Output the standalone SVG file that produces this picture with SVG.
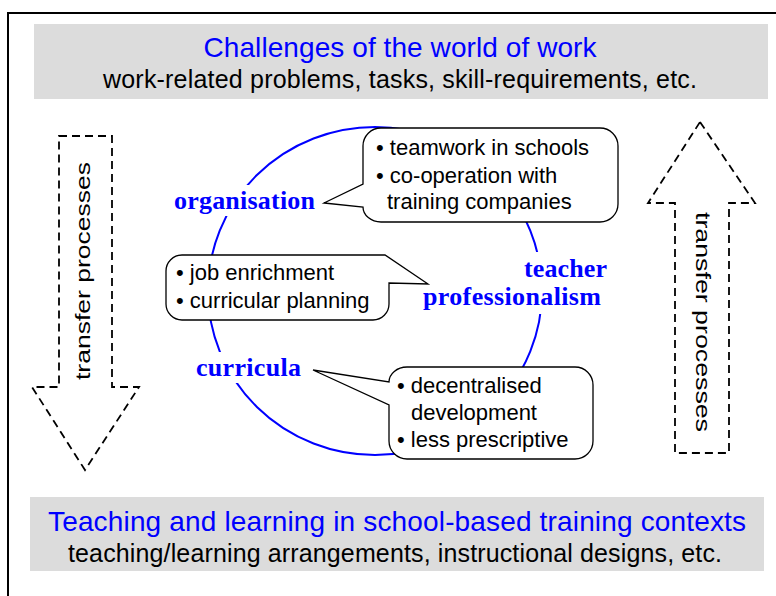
<svg xmlns="http://www.w3.org/2000/svg" width="776" height="596" viewBox="0 0 776 596">
<style>
.band{fill:#dcdcdc;stroke:none}
.ttl{font-family:"Liberation Sans",Arial,sans-serif;font-size:28px;fill:#0000ff;text-anchor:middle}
.sub{font-family:"Liberation Sans",Arial,sans-serif;font-size:25px;fill:#000;text-anchor:middle}
.arrow{fill:none;stroke:#000;stroke-width:1.8;stroke-dasharray:8 5}
.vt{font-family:"Liberation Sans",Arial,sans-serif;font-size:20px;fill:#000;text-anchor:middle}
.lbl{font-family:"Liberation Serif","Times New Roman",serif;font-weight:bold;font-size:26px;fill:#0000ff}
.knock{fill:#fff;stroke:none}
.bub{fill:#fff;stroke:#000;stroke-width:1.3}
.bt{font-family:"Liberation Sans",Arial,sans-serif;font-size:22px;fill:#000}
</style>
<rect x="0" y="0" width="776" height="596" fill="#fff"/>
<rect x="8" y="13" width="800" height="620" fill="none" stroke="#000" stroke-width="2"/>

<g id="top-band">
<rect class="band" x="34" y="24" width="734" height="75"/>
<text class="ttl" x="400" y="57" textLength="393">Challenges of the world of work</text>
<text class="sub" x="400" y="88" textLength="594">work-related problems, tasks, skill-requirements, etc.</text>
</g>

<g id="bottom-band">
<rect class="band" x="30" y="497" width="734" height="74"/>
<text class="ttl" x="397" y="531" textLength="698">Teaching and learning in school-based training contexts</text>
<text class="sub" x="395" y="562" textLength="654">teaching/learning arrangements, instructional designs, etc.</text>
</g>

<g id="arrow-down">
<polygon class="arrow" points="59,136 112,136 112,387 139,387 85,470 32,387 59,387"/>
<text class="vt" transform="translate(90,271) rotate(-90)" textLength="218" lengthAdjust="spacingAndGlyphs">transfer processes</text>
</g>

<g id="arrow-up">
<polygon class="arrow" points="700,122 755,203 729,203 729,453 675,453 675,203 648,203"/>
<text class="vt" transform="translate(696,322) rotate(90)" textLength="220" lengthAdjust="spacingAndGlyphs">transfer processes</text>
</g>

<g id="connectors">
<ellipse cx="375" cy="291" rx="167" ry="164" fill="none" stroke="#0000ff" stroke-width="2"/>
</g>

<g id="organisation">
<rect class="knock" x="170" y="185" width="150" height="31"/>
<text class="lbl" x="174" y="209" textLength="141">organisation</text>
</g>

<g id="teacher-professionalism">
<rect class="knock" x="518" y="252" width="94" height="32"/>
<rect class="knock" x="419" y="284" width="188" height="30"/>
<text class="lbl" x="524" y="277" textLength="83">teacher</text>
<text class="lbl" x="423" y="305" textLength="178">professionalism</text>
</g>

<g id="curricula">
<rect class="knock" x="192" y="352" width="114" height="31"/>
<text class="lbl" x="196" y="376" textLength="105">curricula</text>
</g>

<g id="callout-organisation">
<path class="bub" d="M381,128 H600 A18,18 0 0 1 618,146 V204 A18,18 0 0 1 600,222 H381 A18,15 0 0 1 363,207 L324,203 L363,184 V146 A18,18 0 0 1 381,128 Z"/>
<text class="bt" x="376" y="155">• teamwork in schools</text>
<text class="bt" x="376" y="183">• co-operation with</text>
<text class="bt" x="387" y="209">training companies</text>
</g>

<g id="callout-teacher">
<path class="bub" d="M182,255 H385 L428,284 L389,283 V304 A16,16 0 0 1 373,320 H182 A16,16 0 0 1 166,304 V271 A16,16 0 0 1 182,255 Z"/>
<text class="bt" x="176" y="280">• job enrichment</text>
<text class="bt" x="176" y="308">• curricular planning</text>
</g>

<g id="callout-curricula">
<path class="bub" d="M407,367 H575 A18,18 0 0 1 593,385 V441 A18,18 0 0 1 575,459 H407 A18,18 0 0 1 389,441 V405 L313,370 L389,382 A18,15 0 0 1 407,367 Z"/>
<text class="bt" x="397" y="393">• decentralised</text>
<text class="bt" x="411" y="420">development</text>
<text class="bt" x="397" y="447">• less prescriptive</text>
</g>
</svg>
